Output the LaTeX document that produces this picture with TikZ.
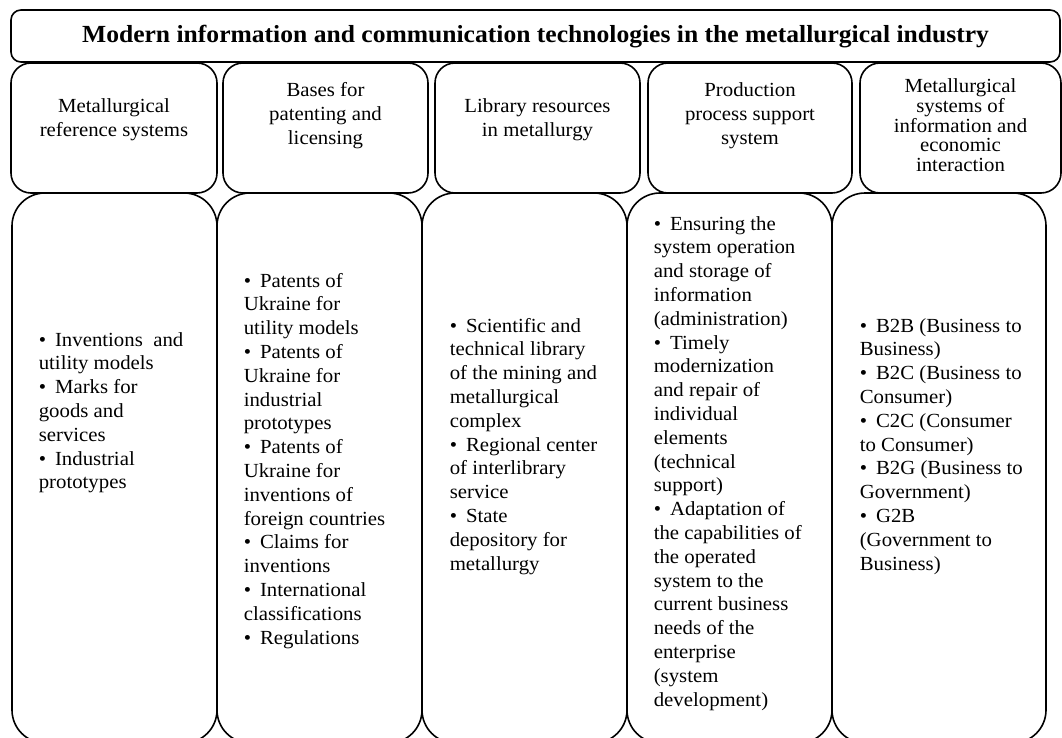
\documentclass[tikz,border=0pt]{standalone}
\usepackage{fontspec}
\setmainfont{Liberation Serif}[FakeStretch=1.04]
\newcommand{\bulitem}{\textbullet\hspace{9pt}}
\begin{document}
\begin{tikzpicture}[x=1pt,y=-1pt,line width=1.6pt,
  titlebox/.style={draw,rounded corners=10pt,inner sep=0pt,minimum width=1049pt,minimum height=52pt},
  headbox/.style={draw,rounded corners=20pt,inner sep=0pt,minimum height=130pt},
  bodybox/.style={draw,rounded corners=33pt,inner sep=0pt,minimum height=550pt},
  bodytext/.style={anchor=base west,inner sep=0pt,font=\fontsize{20}{23.8}\selectfont},
  headtext/.style={anchor=base,inner sep=0pt,font=\fontsize{20}{24}\selectfont}]
\useasboundingbox (0,0) rectangle (1062,738);
\clip (0,0) rectangle (1062,738);
% body boxes
\node[bodybox,minimum width=205pt] (b1) at (114.5,468) {};
\node[bodybox,minimum width=205pt] (b2) at (319.5,468) {};
\node[bodybox,minimum width=205pt] (b3) at (524.5,468) {};
\node[bodybox,minimum width=205pt] (b4) at (729.5,468) {};
\node[bodybox,minimum width=214pt] (b5) at (939,468) {};
% header boxes
\node[headbox,minimum width=206pt] (h1) at (114,128) {};
\node[headbox,minimum width=205pt] (h2) at (325.5,128) {};
\node[headbox,minimum width=205pt] (h3) at (537.5,128) {};
\node[headbox,minimum width=204pt] (h4) at (750,128) {};
\node[headbox,minimum width=201pt] (h5) at (960.5,128) {};
% title
\node[titlebox] (title) at (535.5,36) {};
\node[anchor=base,inner sep=0pt,font=\fontsize{24.6}{28}\selectfont\bfseries] (tt) at (535.5,43)
  {Modern information and communication technologies in the metallurgical industry};
% header texts
\node[headtext] (ht1) at (114,113) {\parbox[t]{200pt}{\centering Metallurgical\\reference systems}};
\node[headtext] (ht2) at (325.5,97) {\parbox[t]{200pt}{\centering Bases for\\patenting and\\licensing}};
\node[headtext] (ht3) at (537.5,113) {\parbox[t]{200pt}{\centering Library resources\\in metallurgy}};
\node[headtext] (ht4) at (750,97) {\parbox[t]{200pt}{\centering Production\\process support\\system}};
\node[headtext,font=\fontsize{20}{19.8}\selectfont] (ht5) at (960.5,92.5) {\parbox[t]{200pt}{\centering Metallurgical\\systems of\\information and\\economic\\interaction}};
% body texts
\node[bodytext] (t1) at (38,346) {\parbox[t]{185pt}{\raggedright
\bulitem Inventions\ \ and\\utility models\\
\bulitem Marks for\\goods and\\services\\
\bulitem Industrial\\prototypes}};
\node[bodytext] (t2) at (243,287) {\parbox[t]{185pt}{\raggedright
\bulitem Patents of\\Ukraine for\\utility models\\
\bulitem Patents of\\Ukraine for\\industrial\\prototypes\\
\bulitem Patents of\\Ukraine for\\inventions of\\foreign countries\\
\bulitem Claims for\\inventions\\
\bulitem International\\classifications\\
\bulitem Regulations}};
\node[bodytext] (t3) at (449,332) {\parbox[t]{185pt}{\raggedright
\bulitem Scientific and\\technical library\\of the mining and\\metallurgical\\complex\\
\bulitem Regional center\\of interlibrary\\service\\
\bulitem State\\depository for\\metallurgy}};
\node[bodytext] (t4) at (653,230) {\parbox[t]{185pt}{\raggedright
\bulitem Ensuring the\\system operation\\and storage of\\information\\(administration)\\
\bulitem Timely\\modernization\\and repair of\\individual\\elements\\(technical\\support)\\
\bulitem Adaptation of\\the capabilities of\\the operated\\system to the\\current business\\needs of the\\enterprise\\(system\\development)}};
\node[bodytext] (t5) at (859,332) {\parbox[t]{185pt}{\raggedright
\bulitem B2B (Business to\\Business)\\
\bulitem B2C (Business to\\Consumer)\\
\bulitem C2C (Consumer\\to Consumer)\\
\bulitem B2G (Business to\\Government)\\
\bulitem G2B\\(Government to\\Business)}};
\end{tikzpicture}
\end{document}
